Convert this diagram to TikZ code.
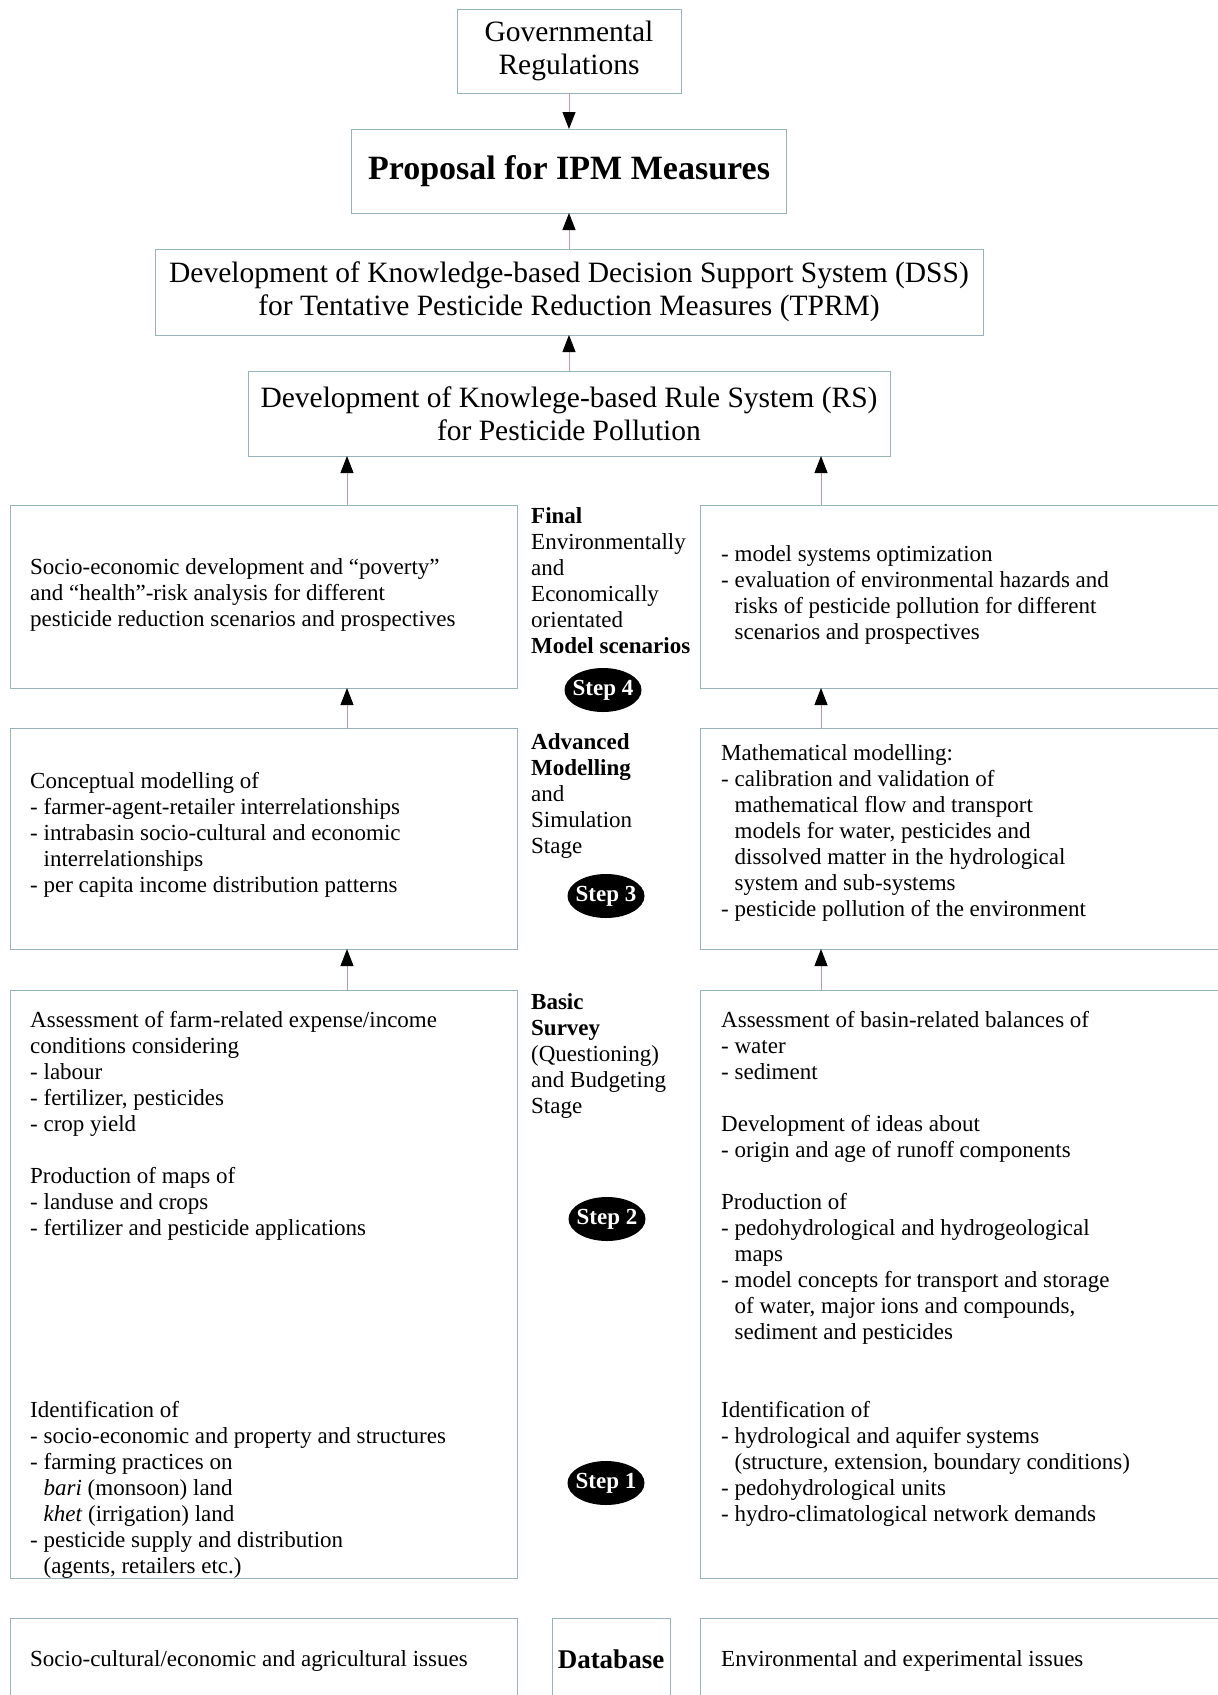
\documentclass[tikz,border=0pt]{standalone}
\usepackage{fontspec}
\setmainfont{Liberation Serif}
\usetikzlibrary{arrows.meta,shapes.geometric}
\definecolor{boxc}{RGB}{150,180,185}
\definecolor{arrc}{RGB}{200,150,160}
\newcommand{\steptext}[1]{\makebox[0pt]{#1}}
\begin{document}
\begin{tikzpicture}[x=1pt,y=-1pt,
  box/.style={draw=boxc, line width=1pt, inner sep=0pt, outer sep=0pt, anchor=north west},
  topbox/.style={draw=boxc, line width=1pt, align=center, inner sep=0pt, outer sep=0pt, font={\fontsize{29.5}{33}\selectfont}},
  txt/.style={anchor=north west, inner sep=0pt, align=left, font={\fontsize{23}{26}\selectfont}},
  stepel/.style={ellipse, fill=black, text=white, minimum width=77pt, minimum height=44pt, inner sep=0pt, font={\fontsize{23}{26}\selectfont\bfseries}},
  arr/.style={draw=arrc, line width=1pt, -{Triangle[length=17pt,width=13pt,color=black]}}]
\useasboundingbox (0,0) rectangle (1218,1695);

% top chain
\node[topbox, minimum width=224pt, minimum height=84pt] (gov) at (569,51) {Governmental\\Regulations};
\node[topbox, minimum width=435pt, minimum height=84pt, font={\fontsize{34}{38}\selectfont\bfseries}] (ipm) at (569,171) {Proposal for IPM Measures};
\node[topbox, minimum width=828pt, minimum height=86pt] (dss) at (569,292) {Development of Knowledge-based Decision Support System (DSS)\\for Tentative Pesticide Reduction Measures (TPRM)};
\node[topbox, minimum width=642pt, minimum height=85pt] (rs) at (569,413.5) {Development of Knowlege-based Rule System (RS)\\for Pesticide Pollution};

% boxes
\node[box, minimum width=507pt, minimum height=183pt] (s4L) at (10,505) {};
\node[box, minimum width=540pt, minimum height=183pt] (s4R) at (700,505) {};
\node[box, minimum width=507pt, minimum height=221pt] (s3L) at (10,728) {};
\node[box, minimum width=540pt, minimum height=221pt] (s3R) at (700,728) {};
\node[box, minimum width=507pt, minimum height=588pt] (s2L) at (10,990) {};
\node[box, minimum width=540pt, minimum height=588pt] (s2R) at (700,990) {};
\node[box, minimum width=507pt, minimum height=100pt] (dbL) at (10,1618) {};
\node[box, minimum width=118pt, minimum height=100pt] (dbM) at (552,1618) {};
\node[box, minimum width=540pt, minimum height=100pt] (dbR) at (700,1618) {};

\coordinate (xl) at (347,0);
\coordinate (xr) at (821,0);

% connectors
\draw[arr] (gov) -- (ipm);
\draw[arr] (dss) -- (ipm);
\draw[arr] (rs) -- (dss);
\draw[arr] (s4L.north -| xl) -- (rs.south -| xl);
\draw[arr] (s4R.north -| xr) -- (rs.south -| xr);
\draw[arr] (s3L.north -| xl) -- (s4L.south -| xl);
\draw[arr] (s3R.north -| xr) -- (s4R.south -| xr);
\draw[arr] (s2L.north -| xl) -- (s3L.south -| xl);
\draw[arr] (s2R.north -| xr) -- (s3R.south -| xr);

% step 4 texts
\node[txt] (t4L) at (30,556) {\strut Socio-economic development and ``poverty''\\and ``health''-risk analysis for different\\pesticide reduction scenarios and prospectives};
\node[txt] (t4R) at (721,543) {\strut - model systems optimization\\- evaluation of environmental hazards and\\\hphantom{- }risks of pesticide pollution for different\\\hphantom{- }scenarios and prospectives};
\node[txt] (t4M) at (531,505) {\strut\textbf{Final}\\Environmentally\\and\\Economically\\orientated\\\textbf{Model scenarios}};
\node[stepel] (st4) at (603,690) {\steptext{Step 4}};

% step 3 texts
\node[txt] (t3L) at (30,770) {\strut Conceptual modelling of\\- farmer-agent-retailer interrelationships\\- intrabasin socio-cultural and economic\\\hphantom{- }interrelationships\\- per capita income distribution patterns};
\node[txt] (t3R) at (721,742) {\strut Mathematical modelling:\\- calibration and validation of\\\hphantom{- }mathematical flow and transport\\\hphantom{- }models for water, pesticides and\\\hphantom{- }dissolved matter in the hydrological\\\hphantom{- }system and sub-systems\\- pesticide pollution of the environment};
\node[txt] (t3M) at (531,731) {\strut\textbf{Advanced}\\\textbf{Modelling}\\and\\Simulation\\Stage};
\node[stepel] (st3) at (606,896) {\steptext{Step 3}};

% step 2 texts
\node[txt] (t2L) at (30,1009) {\strut Assessment of farm-related expense/income\\conditions considering\\- labour\\- fertilizer, pesticides\\- crop yield\\[26pt]Production of maps of\\- landuse and crops\\- fertilizer and pesticide applications};
\node[txt] (t2R) at (721,1009) {\strut Assessment of basin-related balances of\\- water\\- sediment\\[26pt]Development of ideas about\\- origin and age of runoff components\\[26pt]Production of\\- pedohydrological and hydrogeological\\\hphantom{- }maps\\- model concepts for transport and storage\\\hphantom{- }of water, major ions and compounds,\\\hphantom{- }sediment and pesticides};
\node[txt] (t2M) at (531,991) {\strut\textbf{Basic}\\\textbf{Survey}\\(Questioning)\\and Budgeting\\Stage};
\node[stepel] (st2) at (607,1219) {\steptext{Step 2}};

% step 1 texts
\node[txt] (t1L) at (30,1399) {\strut Identification of\\- socio-economic and property and structures\\- farming practices on\\\hphantom{- }\textit{bari} (monsoon) land\\\hphantom{- }\textit{khet} (irrigation) land\\- pesticide supply and distribution\\\hphantom{- }(agents, retailers etc.)};
\node[txt] (t1R) at (721,1399) {\strut Identification of\\- hydrological and aquifer systems\\\hphantom{- }(structure, extension, boundary conditions)\\- pedohydrological units\\- hydro-climatological network demands};
\node[stepel] (st1) at (606,1483) {\steptext{Step 1}};

% database row
\node[txt] (tdL) at (30,1648) {\strut Socio-cultural/economic and agricultural issues};
\node[inner sep=0pt, font={\fontsize{27}{30}\selectfont\bfseries}] (tdM) at (611,1659) {Database};
\node[txt] (tdR) at (721,1648) {\strut Environmental and experimental issues};
\end{tikzpicture}
\end{document}
